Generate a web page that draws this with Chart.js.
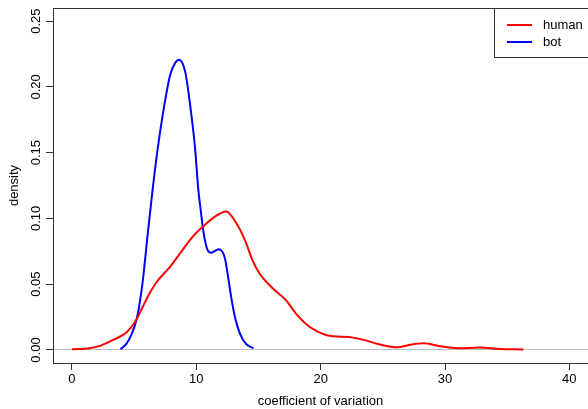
<!DOCTYPE html>
<html>
<head>
<meta charset="utf-8">
<script src="https://cdn.jsdelivr.net/npm/chart.js@4.4.1/dist/chart.umd.min.js"></script>
<style>
body { margin: 0; background: #fff; }
</style>
</head>
<body>
<canvas id="myChart" width="588" height="409"></canvas>
<script>
// density curves
var humanX = [0, 1.4, 2.3, 3.3, 4.4, 5.2, 5.7, 6.3, 6.8, 7.9, 8.9, 9.7, 10.5, 11.5, 12.4, 13.2, 14.0, 14.5, 15.1, 16.2, 17.2, 18.0, 19.1, 20.4, 21.0, 22.6, 23.7, 24.7, 26.2, 27.1, 28.3, 29.5, 31.1, 32.8, 34.4, 36.3];
var humanY = [0.0005, 0.0013, 0.0033, 0.0076, 0.0135, 0.0234, 0.033, 0.044, 0.0515, 0.0634, 0.0761, 0.086, 0.0935, 0.1014, 0.1053, 0.0967, 0.0815, 0.0685, 0.058, 0.0464, 0.038, 0.0279, 0.0177, 0.0114, 0.0105, 0.0094, 0.0071, 0.0043, 0.002, 0.0038, 0.0051, 0.003, 0.0013, 0.0018, 0.0008, 0.0004];
var botX = [3.9, 4.4, 4.8, 5.2, 5.4, 5.7, 6.1, 6.5, 6.9, 7.3, 7.9, 8.3, 8.6, 9.1, 9.5, 9.9, 10.15, 10.35, 10.55, 10.9, 11.2, 11.8, 12.3, 12.55, 12.8, 13.1, 13.5, 14.0, 14.6];
var botY = [0.0005, 0.005, 0.012, 0.0234, 0.033, 0.053, 0.0888, 0.123, 0.1535, 0.1788, 0.2093, 0.2182, 0.2207, 0.2118, 0.1865, 0.1535, 0.123, 0.1065, 0.0913, 0.0761, 0.074, 0.0766, 0.0698, 0.0558, 0.0406, 0.0253, 0.0127, 0.0046, 0.0013];
var seriesNames = ['human', 'bot'];
var seriesColors = ['#ff0000', '#0000ff'];
var xTicks = [0, 10, 20, 30, 40];
var yTicks = [0, 0.05, 0.1, 0.15, 0.2, 0.25];

var font = { family: "'Liberation Sans', Arial, sans-serif", size: 13 };

function pts(xs, ys) {
    var out = [];
    for (let i = 0; i < xs.length; i++) out.push({ x: xs[i], y: ys[i] });
    return out;
}

// R style box + legend in the top right corner
var boxPlugin = {
    id: 'rbox',
    afterDraw: function (chart) {
        var ctx = chart.ctx, a = chart.chartArea;
        ctx.save();
        ctx.strokeStyle = '#333';
        ctx.lineWidth = 1;
        ctx.strokeRect(a.left + 0.5, a.top + 0.5, a.right - a.left + 1, a.bottom - a.top);

        var right = a.right + 1, left = right - 95, top = a.top, bottom = a.top + 49;
        ctx.fillStyle = '#fff';
        ctx.fillRect(left, top + 1, right - left, bottom - top - 1);
        ctx.strokeRect(left + 0.5, top + 0.5, right - left, bottom - top);
        ctx.font = font.size + 'px ' + font.family;
        ctx.textBaseline = 'middle';
        chart.data.datasets.forEach(function (ds, i) {
            var y = top + 17 + i * 17;
            ctx.strokeStyle = ds.borderColor;
            ctx.lineWidth = 2;
            ctx.beginPath();
            ctx.moveTo(left + 13, y);
            ctx.lineTo(left + 38, y);
            ctx.stroke();
            ctx.fillStyle = '#000';
            ctx.fillText(ds.label, left + 49, y);
        });
        ctx.restore();
    }
};

var ctx = document.getElementById('myChart').getContext('2d');
var myChart = new Chart(ctx, {
    type: 'line',
    data: {
        datasets: [{
            label: seriesNames[0],
            data: pts(humanX, humanY),
            borderColor: seriesColors[0],
            borderWidth: 2,
            pointRadius: 0,
            cubicInterpolationMode: 'monotone',
            fill: false
        }, {
            label: seriesNames[1],
            data: pts(botX, botY),
            borderColor: seriesColors[1],
            borderWidth: 2,
            pointRadius: 0,
            cubicInterpolationMode: 'monotone',
            fill: false
        }]
    },
    options: {
        responsive: false,
        animation: false,
        layout: { padding: { top: 8, right: 0, left: 0, bottom: 0 } },
        plugins: { legend: { display: false }, tooltip: { enabled: false } },
        scales: {
            x: {
                type: 'linear',
                min: -1.525,
                max: 41.5,
                afterBuildTicks: function (s) { s.ticks = xTicks.map(v => ({ value: v })); },
                afterFit: function (s) { s.height = 46; },
                border: { display: false },
                grid: { drawOnChartArea: false, tickLength: 7, tickColor: '#333' },
                ticks: { padding: 2, minRotation: 0, maxRotation: 0, font: font, color: '#000' },
                title: { display: true, text: 'coefficient of variation', font: font, color: '#000', padding: 0 }
            },
            y: {
                min: -0.0099,
                max: 0.26,
                afterBuildTicks: function (s) { s.ticks = yTicks.map(v => ({ value: v })); },
                afterFit: function (s) { s.width = 53; },
                border: { display: false },
                grid: {
                    color: function (c) { return c.tick && c.tick.value === 0 ? '#bebebe' : 'rgba(0,0,0,0)'; },
                    tickColor: '#333',
                    tickLength: 7
                },
                ticks: {
                    minRotation: 90, maxRotation: 90, crossAlign: 'center', padding: -3,
                    font: font, color: '#000',
                    callback: function (v) { return v.toFixed(2); }
                },
                title: { display: true, text: 'density', font: font, color: '#000', padding: { top: 7, bottom: 0 } }
            }
        }
    },
    plugins: [boxPlugin]
});
</script>
</body>
</html>
